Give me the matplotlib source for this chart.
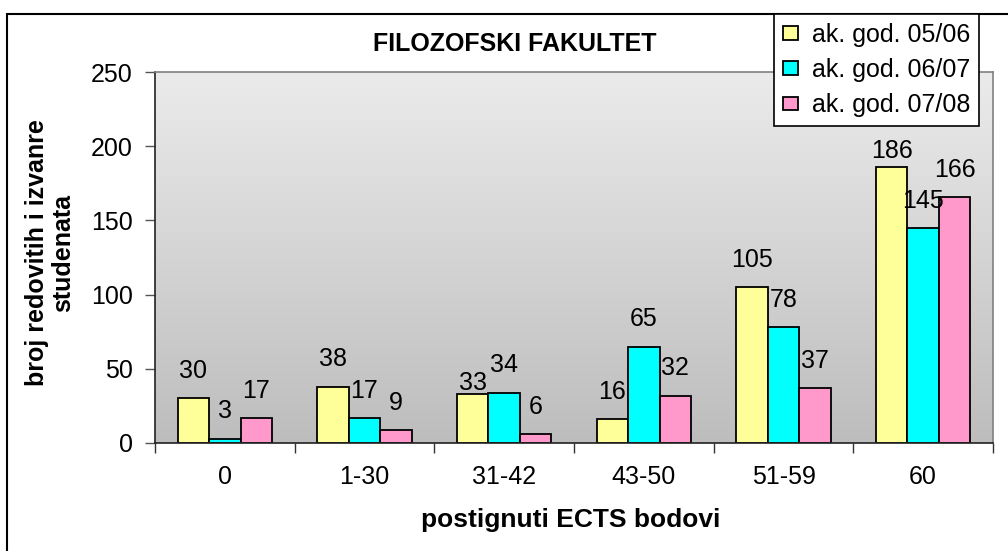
import numpy as np
import matplotlib
matplotlib.use("Agg")
import matplotlib.pyplot as plt
from matplotlib.colors import LinearSegmentedColormap
from matplotlib.patches import Rectangle

# data
categories = ["0", "1-30", "31-42", "43-50", "51-59", "60"]
years = ["ak. god. 05/06", "ak. god. 06/07", "ak. god. 07/08"]
god_05_06 = [30, 38, 33, 16, 105, 186]
god_06_07 = [3, 17, 34, 65, 78, 145]
god_07_08 = [17, 9, 6, 32, 37, 166]
yticks = [0, 50, 100, 150, 200, 250]

series = [god_05_06, god_06_07, god_07_08]
colors = ["#FFFF99", "#00FFFF", "#FF99CC"]

plt.rcParams["font.family"] = ["Liberation Sans", "DejaVu Sans"]

W, H = 1008, 551
fig = plt.figure(figsize=(W / 100, H / 100), dpi=100)
fig.patch.set_facecolor("white")

# chart area border (runs off the right and bottom edge)
fig.patches.append(Rectangle((7 / W, -0.2), 1.5, 1 - 14 / H + 0.2,
                             transform=fig.transFigure, fill=False,
                             edgecolor="black", linewidth=1.5, zorder=0))

ax = fig.add_axes([155 / W, 1 - 443 / H, (993 - 155) / W, (443 - 72) / H])

# gray gradient plot area
grad = LinearSegmentedColormap.from_list("g", ["#BDBDBD", "#EBEBEB"])
ax.imshow(np.linspace(0, 1, 256).reshape(-1, 1), cmap=grad, origin="lower",
          extent=[-0.5, 5.5, 0, 250], aspect="auto", zorder=0)

x = np.arange(len(categories))
w = 0.225
# label nudges (points) where Excel shifted the value labels down
nudge = {(0, 2): -11.5, (0, 5): -8}
for j, vals in enumerate(series):
    xs = x + (j - 1) * w
    ax.bar(xs, vals, width=w, color=colors[j], edgecolor="black",
           linewidth=1.3, label=years[j], zorder=2)
    for i, v in enumerate(vals):
        off = 14.5 + nudge.get((j, i), 0)
        ax.annotate(str(v), (xs[i], v), xytext=(0, off),
                    textcoords="offset points", ha="center", va="baseline",
                    fontsize=18, zorder=3)

ax.set_xlim(-0.5, 5.5)
ax.set_ylim(0, 250)
ax.set_yticks(yticks)
ax.set_xticks(x)
ax.set_xticklabels(categories)
ax.set_xticks(np.arange(-0.5, 6, 1), minor=True)
ax.tick_params(axis="x", which="major", length=0, pad=16, labelsize=18)
ax.tick_params(axis="x", which="minor", length=7, width=1, color="#333333")
ax.tick_params(axis="y", length=7, width=1, color="#555555", pad=9,
               labelsize=18)

for s in ["top", "right"]:
    ax.spines[s].set_color("#808080")
    ax.spines[s].set_linewidth(1.2)
for s in ["left", "bottom"]:
    ax.spines[s].set_color("#222222")
    ax.spines[s].set_linewidth(1.2)

fig.text(515 / W, 1 - 51 / H, "FILOZOFSKI FAKULTET", ha="center",
         va="baseline", fontsize=18, fontweight="bold")
fig.text(571 / W, 1 - 520 / H, "postignuti ECTS bodovi", ha="center",
         va="center", fontsize=19, fontweight="bold")
fig.text(50 / W, 1 - 253 / H, "broj redovitih i izvanre\nstudenata",
         rotation=90, ha="center", va="center", multialignment="center",
         fontsize=18, fontweight="bold", linespacing=1.15)

leg = fig.legend(loc="upper right", bbox_to_anchor=(979 / W, 1 - 14 / H),
                 fontsize=18, frameon=True, fancybox=False, framealpha=1,
                 edgecolor="black", handlelength=0.6, handleheight=0.45,
                 handletextpad=0.55, labelspacing=0.45, borderpad=0.35,
                 borderaxespad=0)
leg.get_frame().set_linewidth(1.2)

fig.savefig("out.png", dpi=100)
